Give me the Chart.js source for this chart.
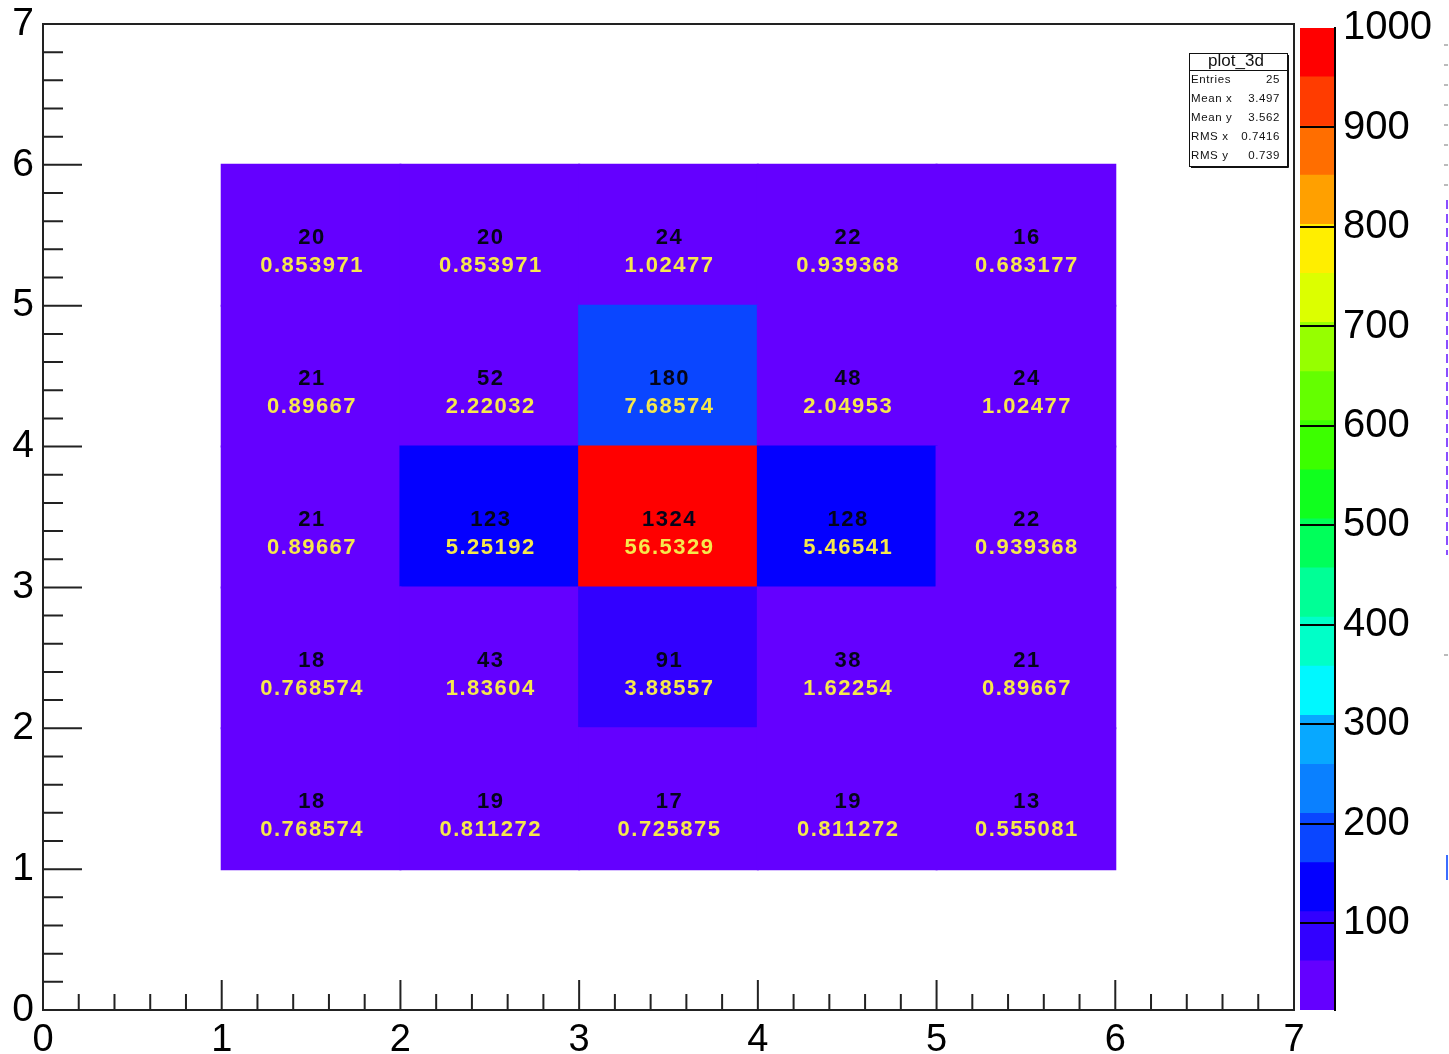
<!DOCTYPE html>
<html>
<head>
<meta charset="utf-8">
<script src="https://cdn.jsdelivr.net/npm/chart.js@4/dist/chart.umd.min.js"></script>
<style>
  html, body { margin: 0; padding: 0; background: #fff; }
  #wrap { position: relative; width: 1449px; height: 1054px; overflow: hidden; }
  #main { position: absolute; left: 0; top: 0; }
  #zbar { position: absolute; left: 1295px; top: 0; }
</style>
</head>
<body>
<div id="wrap">
  <canvas id="main" width="1449" height="1054"></canvas>
  <canvas id="zbar" width="154" height="1054"></canvas>
</div>
<script>
// ---- histogram content: plot_3d, 2D bins of width 1 ----
const binCentres = ['0.5', '1.5', '2.5', '3.5', '4.5', '5.5', '6.5'];
const filledColumns = ['1.5', '2.5', '3.5', '4.5', '5.5'];
const rowEdges = [[1, 2], [2, 3], [3, 4], [4, 5], [5, 6]];

// bin contents per row (bottom row first), columns x = 1..6
const countsRow1 = [18, 19, 17, 19, 13];
const countsRow2 = [18, 43, 91, 38, 21];
const countsRow3 = [21, 123, 1324, 128, 22];
const countsRow4 = [21, 52, 180, 48, 24];
const countsRow5 = [20, 20, 24, 22, 16];

// share of all entries in each bin, %
const pctRow1 = ['0.768574', '0.811272', '0.725875', '0.811272', '0.555081'];
const pctRow2 = ['0.768574', '1.83604', '3.88557', '1.62254', '0.89667'];
const pctRow3 = ['0.89667', '5.25192', '56.5329', '5.46541', '0.939368'];
const pctRow4 = ['0.89667', '2.22032', '7.68574', '2.04953', '1.02477'];
const pctRow5 = ['0.853971', '0.853971', '1.02477', '0.939368', '0.683177'];

const xTicks = [0, 1, 2, 3, 4, 5, 6, 7];
const yTicks = [0, 1, 2, 3, 4, 5, 6, 7];
const zTicks = [100, 200, 300, 400, 500, 600, 700, 800, 900, 1000];

// palette contour levels and band colours (bottom to top)
const zLevels = [13, 62.35, 111.7, 161.05, 210.4, 259.75, 309.1, 358.45, 407.8, 457.15,
                 506.5, 555.85, 605.2, 654.55, 703.9, 753.25, 802.6, 851.95, 901.3, 950.65, 1000];
const zColours = ['#6400ff', '#3200ff', '#0400ff', '#0a46ff', '#0a80ff', '#08a8ff', '#00f8ff',
                  '#00ffc8', '#00ff96', '#00ff5a', '#10ff1e', '#3cff00', '#64ff00', '#96ff00',
                  '#dcff00', '#ffee00', '#ffa000', '#ff6e00', '#ff3c00', '#ff0000'];

const statsTitle = 'plot_3d';
const statsLabels = ['Entries', 'Mean x', 'Mean y', 'RMS x', 'RMS y'];
const statsValues = ['25', '3.497', '3.562', '0.7416', '0.739'];

const FONT = "'Liberation Sans', Arial, Helvetica, sans-serif";

function colourFor(v) {
  if (v >= zLevels[zLevels.length - 1]) return zColours[zColours.length - 1];
  for (let i = 0; i < zColours.length; i++) {
    if (v < zLevels[i + 1]) return zColours[i];
  }
  return zColours[zColours.length - 1];
}

const allCounts = [countsRow1, countsRow2, countsRow3, countsRow4, countsRow5];
const allPcts = [pctRow1, pctRow2, pctRow3, pctRow4, pctRow5];

const cellDatasets = allCounts.map((row, r) => ({
  data: filledColumns.map(c => ({ x: c, y: rowEdges[r] })),
  backgroundColor: row.map(colourFor),
  counts: row,
  pcts: allPcts[r],
  xAxisID: 'xc',
  yAxisID: 'y',
  grouped: false,
  categoryPercentage: 1,
  barPercentage: 1,
  inflateAmount: 1,
  borderWidth: 0
}));

// bin content labels: count on top, percentage underneath
const cellText = {
  id: 'cellText',
  afterDatasetsDraw(chart) {
    const ctx = chart.ctx;
    ctx.save();
    ctx.textAlign = 'center';
    ctx.textBaseline = 'middle';
    ctx.letterSpacing = '1.5px';
    chart.data.datasets.forEach((ds, di) => {
      const meta = chart.getDatasetMeta(di);
      meta.data.forEach((bar, i) => {
        const p = bar.getProps(['x', 'y', 'base'], true);
        const cy = (p.y + p.base) / 2;
        ctx.font = 'bold 22px ' + FONT;
        ctx.fillStyle = '#05051a';
        ctx.fillText(String(ds.counts[i]), p.x + 1, cy + 3);
        ctx.fillStyle = '#f6e84c';
        ctx.fillText(ds.pcts[i], p.x + 1, cy + 31);
      });
    });
    ctx.restore();
  }
};

// frame, inward major/minor tick marks, statistics box
const frameAndTicks = {
  id: 'frameAndTicks',
  afterDraw(chart) {
    const ctx = chart.ctx;
    const a = chart.chartArea;
    const xs = chart.scales.x, ys = chart.scales.y;
    ctx.save();
    ctx.strokeStyle = '#222';
    ctx.lineWidth = 2;
    ctx.strokeRect(a.left, a.top, a.right - a.left, a.bottom - a.top);

    ctx.beginPath();
    for (let k = 0; k <= 35; k++) {
      const v = k / 5;
      const major = k % 5 === 0;
      const px = xs.getPixelForValue(v);
      ctx.moveTo(px, a.bottom);
      ctx.lineTo(px, a.bottom - (major ? 30 : 16));
      const py = ys.getPixelForValue(v);
      ctx.moveTo(a.left, py);
      ctx.lineTo(a.left + (major ? 39 : 20), py);
    }
    ctx.stroke();

    // statistics box
    const bx = 1189, by = 53, bw = 98, bh = 113;
    ctx.fillStyle = '#fff';
    ctx.fillRect(bx, by, bw, bh);
    ctx.lineWidth = 1;
    ctx.strokeStyle = '#111';
    ctx.strokeRect(bx + 0.5, by + 0.5, bw, bh);
    ctx.beginPath();
    ctx.moveTo(bx + bw + 1.5, by + 2);
    ctx.lineTo(bx + bw + 1.5, by + bh + 1.5);
    ctx.lineTo(bx + 2, by + bh + 1.5);
    ctx.stroke();
    ctx.beginPath();
    ctx.moveTo(bx, by + 17.5);
    ctx.lineTo(bx + bw, by + 17.5);
    ctx.stroke();
    ctx.fillStyle = '#111';
    ctx.textBaseline = 'middle';
    ctx.textAlign = 'center';
    ctx.font = '17px ' + FONT;
    ctx.fillText(statsTitle, bx + bw / 2 - 2, by + 8);
    ctx.font = '11.5px ' + FONT;
    ctx.letterSpacing = '0.6px';
    statsLabels.forEach((lab, i) => {
      const ty = by + 27 + i * 19;
      ctx.textAlign = 'left';
      ctx.fillText(lab, bx + 2, ty);
      ctx.textAlign = 'right';
      ctx.fillText(statsValues[i], bx + bw - 7, ty);
    });
    ctx.letterSpacing = '0px';

    // edge of the neighbouring pad
    ctx.lineWidth = 2;
    ctx.strokeStyle = '#bbb';
    ctx.beginPath();
    for (let k = 0; k < 8; k++) {
      ctx.moveTo(1444, 45 + k * 20);
      ctx.lineTo(1448, 45 + k * 20);
    }
    ctx.moveTo(1444, 655); ctx.lineTo(1448, 655);
    ctx.stroke();
    ctx.strokeStyle = '#8a4dff';
    ctx.setLineDash([9, 5]);
    ctx.beginPath();
    ctx.moveTo(1447, 200);
    ctx.lineTo(1447, 555);
    ctx.stroke();
    ctx.setLineDash([]);
    ctx.strokeStyle = '#3b6cff';
    ctx.beginPath();
    ctx.moveTo(1447, 855);
    ctx.lineTo(1447, 880);
    ctx.stroke();
    ctx.restore();
  }
};

const fixTicks = list => scale => { scale.ticks = list.map(v => ({ value: v })); };

new Chart(document.getElementById('main'), {
  type: 'bar',
  data: { labels: binCentres, datasets: cellDatasets },
  options: {
    responsive: false,
    animation: false,
    devicePixelRatio: 1,
    events: [],
    layout: { padding: { left: 0, top: 24, right: 155, bottom: 0 } },
    plugins: { legend: { display: false }, tooltip: { enabled: false } },
    scales: {
      xc: { type: 'category', labels: binCentres, display: false, offset: true },
      x: {
        type: 'linear', position: 'bottom', min: 0, max: 7, offset: false,
        afterBuildTicks: fixTicks(xTicks),
        afterFit: s => { s.height = 44; },
        grid: { display: false, offset: false },
        border: { display: false },
        ticks: { color: '#000', font: { family: FONT, size: 38, lineHeight: 1 }, padding: 4, maxRotation: 0, autoSkip: false }
      },
      y: {
        type: 'linear', position: 'left', min: 0, max: 7, offset: false,
        afterBuildTicks: fixTicks(yTicks),
        afterFit: s => { s.width = 43; },
        grid: { display: false },
        border: { display: false },
        ticks: { color: '#000', font: { family: FONT, size: 39, lineHeight: 1 }, padding: 1, autoSkip: false }
      }
    }
  },
  plugins: [cellText, frameAndTicks]
});

// colour scale (palette axis)
new Chart(document.getElementById('zbar'), {
  type: 'bar',
  data: {
    labels: ['z'],
    datasets: zColours.map((c, i) => ({
      data: [[zLevels[i], zLevels[i + 1]]],
      backgroundColor: c,
      grouped: false,
      categoryPercentage: 1,
      barPercentage: 1,
      inflateAmount: 0.5,
      borderWidth: 0
    }))
  },
  options: {
    responsive: false,
    animation: false,
    devicePixelRatio: 1,
    events: [],
    layout: { padding: { left: 5, top: 24, right: 0, bottom: 44 } },
    plugins: { legend: { display: false }, tooltip: { enabled: false } },
    scales: {
      x: { display: false, offset: true },
      y: {
        position: 'right', min: 13, max: 1000,
        afterBuildTicks: fixTicks(zTicks),
        afterFit: s => { s.width = 114; },
        grid: {
          color: c => (c.tick && c.tick.value >= 1000 ? 'rgba(0,0,0,0)' : '#000'),
          lineWidth: 2, drawTicks: false, drawOnChartArea: true, z: 1
        },
        border: { display: true, color: '#000', width: 2, z: 1 },
        ticks: { color: '#000', font: { family: FONT, size: 40, lineHeight: 1 }, padding: 8, autoSkip: false,
                 callback: v => String(v) }
      }
    }
  }
});
</script>
</body>
</html>
